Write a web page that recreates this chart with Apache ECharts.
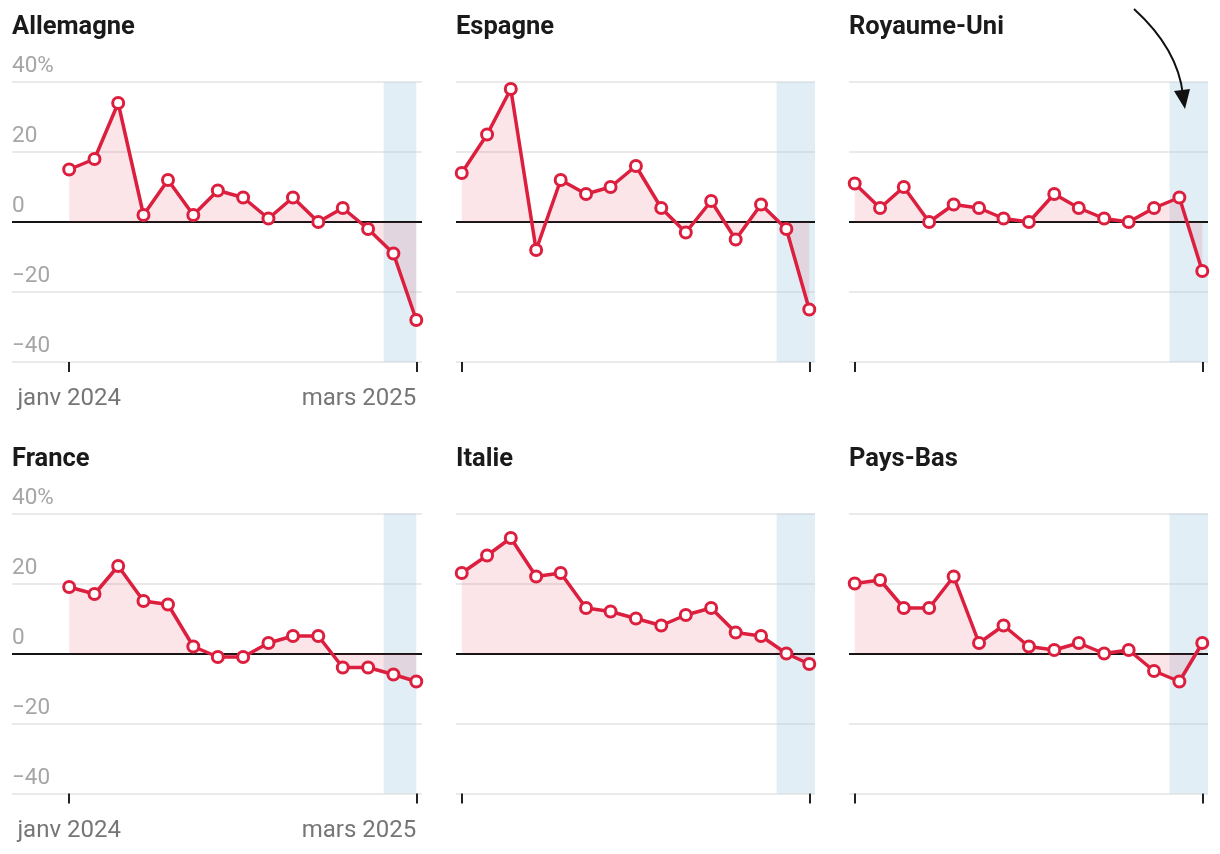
<!DOCTYPE html>
<html><head><meta charset="utf-8">
<script src="https://cdn.jsdelivr.net/npm/echarts@6/dist/echarts.min.js"></script>
<style>html,body{margin:0;padding:0;background:#fff}#c{width:1220px;height:854px}</style>
</head><body><div id="c"></div>
<script>
// ---- data ----
const months = ['2024-01-01','2024-02-01','2024-03-01','2024-04-01','2024-05-01','2024-06-01','2024-07-01','2024-08-01','2024-09-01','2024-10-01','2024-11-01','2024-12-01','2025-01-01','2025-02-01','2025-03-01'];
const countries = ['Allemagne','Espagne','Royaume-Uni','France','Italie','Pays-Bas'];
const allemagne  = [15,18,34,2,12,2,9,7,1,7,0,4,-2,-9,-28];
const espagne    = [14,25,38,-8,12,8,10,16,4,-3,6,-5,5,-2,-25];
const royaumeUni = [11,4,10,0,5,4,1,0,8,4,1,0,4,7,-14];
const france     = [19,17,25,15,14,2,-1,-1,3,5,5,-4,-4,-6,-8];
const italie     = [23,28,33,22,23,13,12,10,8,11,13,6,5,0,-3];
const paysBas    = [20,21,13,13,22,3,8,2,1,3,0,1,-5,-8,3];
const seriesValues = [allemagne, espagne, royaumeUni, france, italie, paysBas];
const yTickValues = [-40,-20,0,20,40];
const xTickDates = ['2024-01-01','2025-03-01'];
const xTickLabels = ['janv 2024','mars 2025'];
const bandStart = '2025-01-20';

// ---- layout ----
const RED = '#dc1f3e';
const DAY = 86400000;
const ts = s => Date.parse(s + 'T00:00:00Z');
const tickTs = xTickDates.map(ts);
const gridLeft = [12, 456, 849];
const gridWidth = [410, 359, 359];
const gridTop = [82, 513.5];
const padLeftDays = [70, 7, 7];
const padRightDays = 7;

const grid = [], xAxis = [], yAxis = [], series = [], title = [];
countries.forEach((name, i) => {
  const col = i % 3, row = Math.floor(i / 3);
  const xmin = ts(months[0]) - padLeftDays[col] * DAY;
  const xmax = ts(months[months.length - 1]) + padRightDays * DAY;
  grid.push({left: gridLeft[col], width: gridWidth[col], top: gridTop[row], height: 280});
  title.push({text: name, left: gridLeft[col], top: gridTop[row] - 67, padding: 0,
    textStyle: {fontFamily: 'Roboto', fontWeight: 'bold', fontSize: 25.5, color: '#1a1a1a'}});
  xAxis.push({
    gridIndex: i, type: 'value', min: xmin, max: xmax, scale: true,
    axisLine: {show: false, onZero: false}, splitLine: {show: false},
    axisTick: {show: true, customValues: tickTs, length: 10, lineStyle: {color: '#222', width: 2}},
    axisLabel: {show: col === 0, customValues: tickTs,
      formatter: v => xTickLabels[tickTs.indexOf(v)] || '',
      color: '#767676', fontFamily: 'Roboto', fontSize: 24, margin: 25,
      alignMinLabel: 'center', alignMaxLabel: 'right'}
  });
  yAxis.push({
    gridIndex: i, type: 'value', min: yTickValues[0], max: yTickValues[yTickValues.length - 1], interval: 20,
    axisLine: {show: false}, axisTick: {show: false},
    splitLine: {lineStyle: {color: '#e3e3e3', width: 1.6}},
    axisLabel: {show: col === 0, inside: true, verticalAlign: 'bottom', margin: 0, padding: [0, 0, 4, 0],
      color: '#a6a6a6', fontFamily: 'Roboto', fontSize: 22.5,
      formatter: v => v === 40 ? '40%' : (v < 0 ? '\u2212' + Math.abs(v) : String(v))}
  });
  const vals = seriesValues[i];
  series.push({
    type: 'line', xAxisIndex: i, yAxisIndex: i, z: 3,
    data: months.map((m, k) => [ts(m), vals[k]]),
    symbol: 'circle', symbolSize: 11, showSymbol: true,
    lineStyle: {color: RED, width: 3.5},
    itemStyle: {color: '#fff', borderColor: RED, borderWidth: 3},
    areaStyle: {color: 'rgba(220,30,60,0.17)', origin: 'auto'},
    markLine: {silent: true, z: 2, symbol: 'none', label: {show: false},
      lineStyle: {color: '#151515', width: 2, type: 'solid'}, data: [{yAxis: 0}]},
    markArea: {silent: true, z: 1, itemStyle: {color: 'rgba(176,208,228,0.36)'},
      data: [[{xAxis: ts(bandStart)}, {xAxis: col === 0 ? ts(months[months.length - 1]) : xmax}]]},
    animation: false
  });
});

const chart = echarts.init(document.getElementById('c'), null, {renderer: 'canvas'});
chart.setOption({
  animation: false,
  backgroundColor: '#fff',
  title, grid, xAxis, yAxis, series,
  graphic: [
    {type: 'bezierCurve', z: 10, shape: {x1: 1134, y1: 9, cpx1: 1166, cpy1: 38, cpx2: 1180, cpy2: 68, x2: 1183, y2: 95},
     style: {stroke: '#111', lineWidth: 2, fill: null}},
    {type: 'polygon', z: 10, shape: {points: [[1174, 91], [1190, 89], [1185, 109]]}, style: {fill: '#111'}}
  ]
});
</script>
</body></html>
